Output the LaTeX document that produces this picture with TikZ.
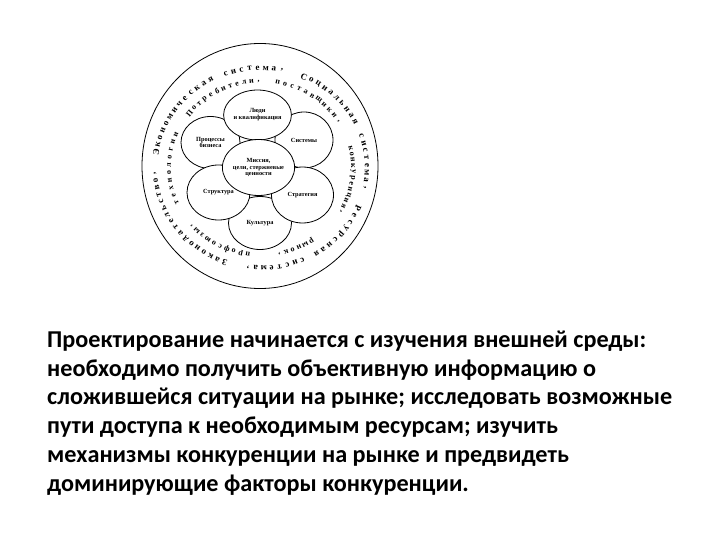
\documentclass[tikz,border=0pt]{standalone}
\usepackage{fontspec}
\setmainfont{Liberation Serif}
\newfontfamily\parafont{Carlito}
\usetikzlibrary{shapes.geometric}
\tikzset{
  petal/.style={ellipse, draw=black, line width=0.8pt, fill=white, inner sep=0pt,
    align=center, font=\bfseries\fontsize{6.3}{6.8}\selectfont},
  outerch/.style={inner sep=0pt, font=\bfseries\fontsize{9}{9}\selectfont},
  innerch/.style={inner sep=0pt, font=\bfseries\fontsize{8}{8}\selectfont},
  paraline/.style={anchor=base west, inner sep=0pt, font=\parafont\bfseries\fontsize{24.2}{24.2}\selectfont}
}
\newcommand\ringword[7]{% #1 style, #2 rx, #3 ry, #4 start, #5 step, #6 prefix, #7 letters
  \foreach \ch [count=\i from 0] in {#7} {
    \pgfmathsetmacro\ang{#4-\i*#5}
    \node[#1, rotate=\ang-90, name=#6\i] at ({261+#2*cos(\ang)},{168-#3*sin(\ang)}) {\ch};
  }}
\begin{document}
\begin{tikzpicture}[x=1pt,y=-1pt]
\fill[white] (0,0) rectangle (720,540);
\useasboundingbox (0,0) rectangle (720,540);
% outer circle
\node[ellipse, draw=black, line width=0.8pt, minimum width=236pt, minimum height=245pt, inner sep=0pt] (outer) at (260,166) {};
% petals, back to front
\node[petal, minimum width=63pt, minimum height=53pt] (kult) at (260,223) {Культура};
\node[petal, minimum width=59pt, minimum height=52pt] (proc) at (210.5,142.5) {Процессы\\бизнеса};
\node[petal, minimum width=58pt, minimum height=56pt] (sist) at (304,140) {Системы};
\node[petal, minimum width=62pt, minimum height=56pt] (strat) at (302.5,195) {Стратегия};
\node[petal, minimum width=63pt, minimum height=55pt] (strukt) at (218.5,192.5) {Структура};
\node[petal, minimum width=58pt, minimum height=50pt] (ludi) at (257.5,115) {Люди\\и квалификация};
\node[petal, minimum width=66pt, minimum height=56pt] (center) at (258.5,167.5) {Миссия,\\цели, стержневые\\ценности};
% outer ring texts
\ringword{outerch}{106}{100}{171}{4.4}{oa}{Э,к,о,н,о,м,и,ч,е,с,к,а,я,{},с,и,с,т,е,м,а,{,}}
\ringword{outerch}{106}{100}{66}{4.3}{ob}{С,о,ц,и,а,л,ь,н,а,я,{},с,и,с,т,е,м,а,{,}}
\ringword{outerch}{106}{100}{-24}{4.3}{oc}{Р,е,с,у,р,с,н,а,я,{},с,и,с,т,е,м,а,{,}}
\ringword{outerch}{106}{100}{250}{4.2}{od}{З,а,к,о,н,о,д,а,т,е,л,ь,с,т,в,о,{,}}
% inner ring texts
\ringword{innerch}{92}{87}{141}{4.5}{ia}{П,о,т,р,е,б,и,т,е,л,и,{,}}
\ringword{innerch}{92}{87}{79.6}{4.7}{ib}{п,о,с,т,а,в,щ,и,к,и,{,}}
\ringword{innerch}{92}{87}{13}{3.9}{ic}{к,о,н,к,у,р,е,н,ц,и,я,{,}}
\ringword{innerch}{92}{87}{-57}{4.3}{id}{р,ы,н,о,к,{,}}
\ringword{innerch}{92}{87}{261.7}{4.5}{ie}{п,р,о,ф,с,о,ю,з,ы,{,}}
\ringword{innerch}{92}{87}{203.5}{5.1}{if}{т,е,х,н,о,л,о,г,и,и}
% paragraph
\node[paraline] (l1) at (47,347) {Проектирование начинается с изучения внешней среды:};
\node[paraline] (l2) at (47,376) {необходимо получить объективную информацию о};
\node[paraline] (l3) at (47,404.5) {сложившейся ситуации на рынке; исследовать возможные};
\node[paraline] (l4) at (47,433) {пути доступа к необходимым ресурсам; изучить};
\node[paraline] (l5) at (47,462) {механизмы конкуренции на рынке и предвидеть};
\node[paraline] (l6) at (47,491) {доминирующие факторы конкуренции.};
\end{tikzpicture}
\end{document}
